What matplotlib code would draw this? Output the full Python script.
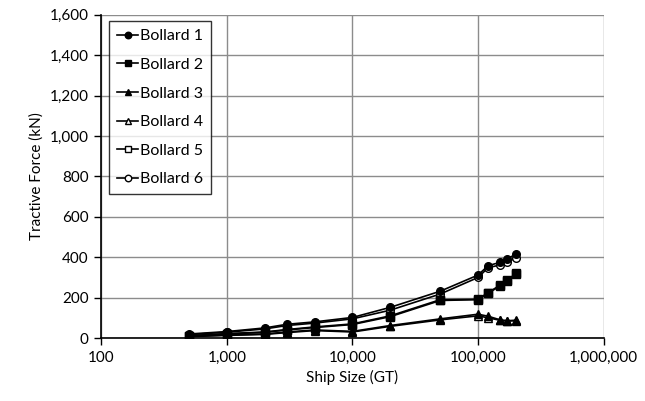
import numpy as np
import matplotlib.pyplot as plt
from matplotlib.ticker import FuncFormatter, FixedLocator

plt.rcParams['font.family'] = ['Lato', 'DejaVu Sans']

# ship size (GT)
ship_size = [500, 1000, 2000, 3000, 5000, 10000, 20000, 50000,
             100000, 120000, 150000, 170000, 200000]

# tractive force (kN)
bollard_1 = [20, 32, 50, 68, 80, 102, 152, 232, 312, 358, 375, 392, 415]
bollard_2 = [12, 22, 30, 42, 55, 70, 110, 190, 192, 225, 262, 285, 320]
bollard_3 = [8, 15, 20, 30, 40, 33, 62, 95, 118, 108, 90, 86, 88]
bollard_4 = [7, 13, 18, 27, 37, 30, 58, 90, 110, 100, 88, 84, 86]
bollard_5 = [10, 20, 28, 40, 52, 67, 106, 186, 190, 222, 258, 282, 316]
bollard_6 = [17, 29, 45, 62, 74, 95, 138, 218, 300, 348, 362, 378, 395]

labels = ["Bollard 1", "Bollard 2", "Bollard 3", "Bollard 4", "Bollard 5", "Bollard 6"]
series = [bollard_1, bollard_2, bollard_3, bollard_4, bollard_5, bollard_6]
markers = ["o", "s", "^", "^", "s", "o"]
filled = [True, True, True, False, False, False]

fig = plt.figure(figsize=(6.45, 4.01), dpi=100)
ax = fig.add_axes([0.157, 0.157, 0.779, 0.806])

for lab, ys, m, f in zip(labels, series, markers, filled):
    ax.plot(ship_size, ys, color="black", lw=1.2, marker=m, markersize=5.5,
            markerfacecolor="black" if f else "white", markeredgecolor="black",
            markeredgewidth=1.0, label=lab, zorder=4 if f else 3)

ax.set_xscale("log")
ax.set_xlim(100, 1000000)
ax.set_ylim(0, 1600)
ax.xaxis.set_major_locator(FixedLocator([100, 1000, 10000, 100000, 1000000]))
ax.xaxis.set_minor_locator(FixedLocator([]))
ax.set_yticks(np.arange(0, 1601, 200))
fmt = FuncFormatter(lambda v, p: "{:,.0f}".format(v))
ax.xaxis.set_major_formatter(fmt)
ax.yaxis.set_major_formatter(fmt)

ax.grid(True, color="#8c8c8c", lw=1.0)
ax.set_axisbelow(True)
for s in ["top", "right"]:
    ax.spines[s].set_visible(False)
for s in ["left", "bottom"]:
    ax.spines[s].set_color("black")
    ax.spines[s].set_linewidth(1.2)
ax.tick_params(axis="both", direction="out", length=5, width=1, labelsize=11, pad=4)

ax.set_xlabel("Ship Size (GT)", fontsize=11)
ax.set_ylabel("Tractive Force (kN)", fontsize=11)

leg = ax.legend(loc="upper left", bbox_to_anchor=(0.01, 0.99), frameon=True, fancybox=False,
                edgecolor="black", fontsize=11.5, handlelength=1.3, handletextpad=0.1,
                borderpad=0.5, labelspacing=0.9, borderaxespad=0.2, markerscale=0.85)
leg.get_frame().set_linewidth(1.0)

fig.savefig("out.png", dpi=100)
